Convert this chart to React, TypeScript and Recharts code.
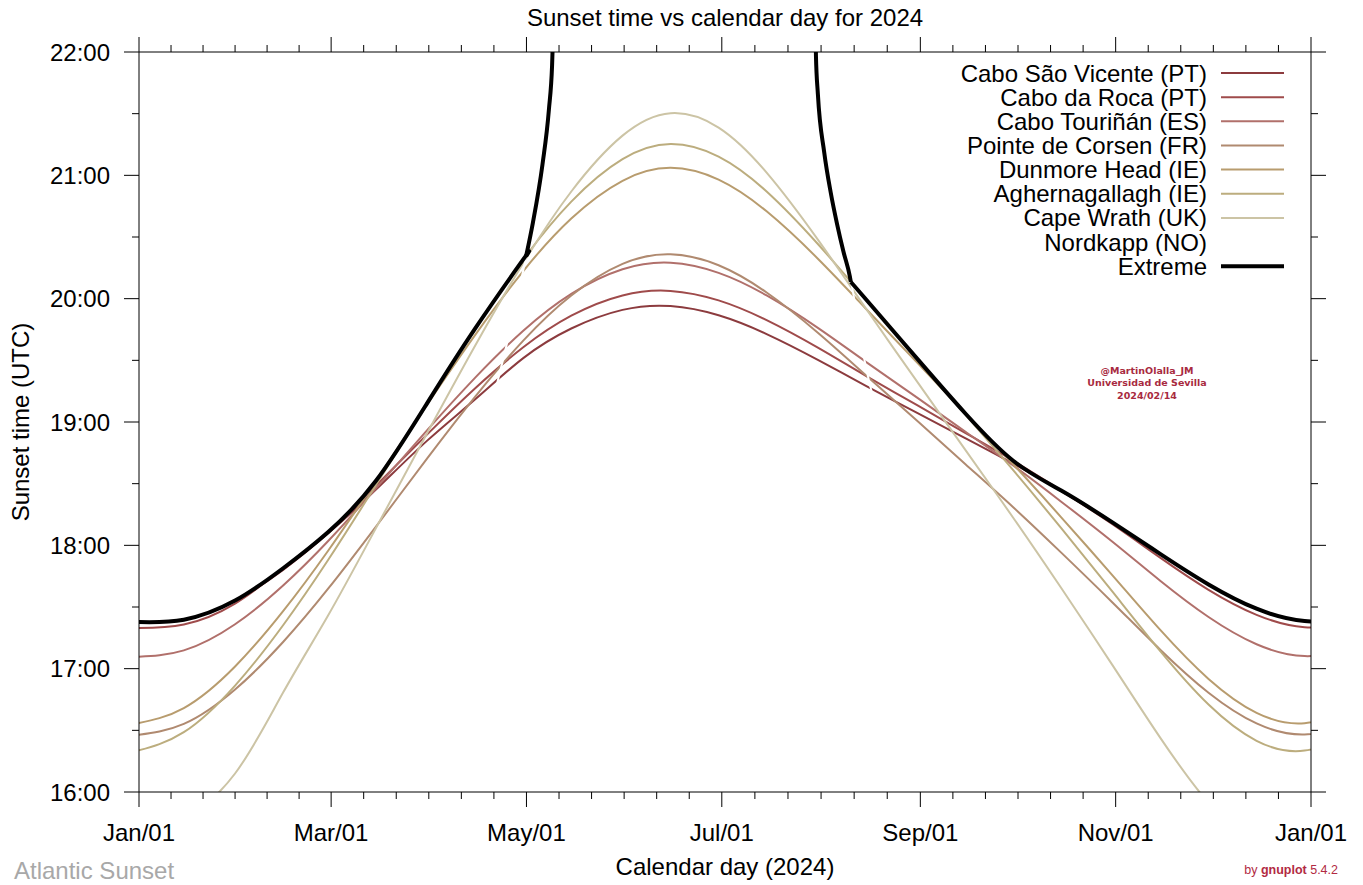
import React from 'react';
import { LineChart, Line, XAxis, YAxis } from 'recharts';

// day of year (0 = Jan 01) for the sampled sunsets; last one wraps into next January
const days = [-1, 14, 30, 45, 59, 74, 90, 105, 120, 135, 151, 166, 181, 196, 212, 227, 243, 258, 273, 288, 304, 319, 334, 349, 364, 380];

// sunset time, decimal hours UTC
const caboSaoVicente = [17.379, 17.397, 17.552, 17.801, 18.095, 18.452, 18.849, 19.184, 19.518, 19.758, 19.909, 19.94, 19.865, 19.713, 19.504, 19.293, 19.074, 18.869, 18.662, 18.44, 18.186, 17.929, 17.683, 17.486, 17.386, 17.397];
const caboDaRoca = [17.33, 17.358, 17.528, 17.814, 18.106, 18.483, 18.9, 19.274, 19.606, 19.862, 20.026, 20.063, 19.986, 19.826, 19.603, 19.374, 19.136, 18.912, 18.686, 18.444, 18.171, 17.898, 17.639, 17.436, 17.336, 17.358];
const caboTourinan = [17.096, 17.148, 17.36, 17.674, 18.033, 18.462, 18.934, 19.36, 19.74, 20.039, 20.238, 20.291, 20.209, 20.026, 19.763, 19.488, 19.198, 18.923, 18.647, 18.354, 18.029, 17.711, 17.419, 17.198, 17.102, 17.148];
const pointeDeCorsen = [16.461, 16.552, 16.831, 17.216, 17.646, 18.152, 18.705, 19.206, 19.66, 20.026, 20.282, 20.36, 20.271, 20.05, 19.724, 19.379, 19.01, 18.66, 18.309, 17.941, 17.537, 17.152, 16.805, 16.556, 16.467, 16.552];
const dunmoreHead = [16.554, 16.681, 17.018, 17.466, 17.954, 18.523, 19.143, 19.707, 20.224, 20.65, 20.956, 21.061, 20.965, 20.708, 20.324, 19.918, 19.481, 19.071, 18.657, 18.227, 17.757, 17.312, 16.917, 16.642, 16.558, 16.681];
const aghernagallagh = [16.331, 16.485, 16.863, 17.352, 17.879, 18.489, 19.153, 19.759, 20.318, 20.787, 21.131, 21.254, 21.152, 20.869, 20.443, 19.995, 19.514, 19.063, 18.609, 18.139, 17.624, 17.14, 16.709, 16.415, 16.336, 16.485];
const capeWrath = [15.492, 15.76, 16.15, 16.806, 17.429, 18.14, 18.91, 19.62, 20.289, 20.869, 21.322, 21.504, 21.387, 21.022, 20.479, 19.92, 19.327, 18.776, 18.224, 17.654, 17.029, 16.437, 15.911, 15.561, 15.495, 15.76];

// Nordkapp: no sunset during midnight sun (null)
const nordkappDays = [59, 74, 90, 97, 105, 112, 120, 123, 126, 128, 129, 129.4, 170, 211.3, 211.4, 212, 214, 216, 218, 220, 222, 227, 235, 243, 250, 258, 273];
const nordkapp = [14.789, 16.033, 17.361, 17.947, 18.681, 19.33, 20.23, 20.615, 21.088, 21.531, 21.892, 22.21, null, 22.18, 21.97, 21.66, 21.184, 20.863, 20.605, 20.38, 20.179, 19.445, 18.706, 18.092, 17.561, 16.992, 15.932];

// latest sunset of all places; kinks where Nordkapp takes over
const extremeDays = [-1, 14, 30, 45, 59, 74, 90, 105, 120, 120.9, 123, 126, 128, 129, 129.4, 170, 211.3, 211.4, 212, 214, 216, 218, 220, 222, 222.3, 227, 243, 258, 273, 288, 304, 319, 334, 349, 364, 380];
const extreme = [17.379, 17.397, 17.552, 17.814, 18.106, 18.523, 19.153, 19.759, 20.318, 20.346, 20.615, 21.088, 21.531, 21.892, 22.21, null, 22.18, 21.97, 21.66, 21.184, 20.863, 20.605, 20.38, 20.179, 20.135, 19.995, 19.514, 19.071, 18.686, 18.444, 18.186, 17.929, 17.683, 17.486, 17.386, 17.397];
const extremeKinks = [120.9, 222.3];

const monthTicks = [0, 60, 121, 182, 244, 305, 366];
const monthLabels = ['Jan/01', 'Mar/01', 'May/01', 'Jul/01', 'Sep/01', 'Nov/01', 'Jan/01'];
const hourTicks = [16, 17, 18, 19, 20, 21, 22];

const FONT = '"Liberation Sans", Arial, Helvetica, sans-serif';

const series = [
  { name: 'Cabo São Vicente (PT)', color: '#8c3b3e', values: caboSaoVicente },
  { name: 'Cabo da Roca (PT)', color: '#9f4b4b', values: caboDaRoca },
  { name: 'Cabo Touriñán (ES)', color: '#b1706b', values: caboTourinan },
  { name: 'Pointe de Corsen (FR)', color: '#b08a70', values: pointeDeCorsen },
  { name: 'Dunmore Head (IE)', color: '#b89c6e', values: dunmoreHead },
  { name: 'Aghernagallagh (IE)', color: '#bcad7e', values: aghernagallagh },
  { name: 'Cape Wrath (UK)', color: '#ccc4a5', values: capeWrath },
];

const legendItems = [
  ...series.map(s => ({ name: s.name, color: s.color, width: 2 })),
  { name: 'Nordkapp (NO)', color: '#ffffff', width: 2 },
  { name: 'Extreme', color: '#000000', width: 4 },
];

// minor ticks: 6 steps between months, half hours on y
const xTicks = [
  ...monthTicks,
  ...monthTicks.slice(0, -1).flatMap((m, i) => [1, 2, 3, 4, 5].map(k => m + ((monthTicks[i + 1] - m) * k) / 6)),
].sort((a, b) => a - b);
const yTicks = hourTicks.flatMap(h => (h < 22 ? [h, h + 0.5] : [h]));

const toData = (xs: number[], vs: (number | null)[]) => xs.map((d, i) => ({ day: d, t: vs[i] }));

// split a series at nulls and at kink days (kink point kept in both pieces)
const splitRuns = (xs: number[], vs: (number | null)[], kinks: number[]) => {
  const runs: { day: number; t: number }[][] = [];
  let cur: { day: number; t: number }[] = [];
  xs.forEach((d, i) => {
    const v = vs[i];
    if (v === null) {
      if (cur.length) runs.push(cur);
      cur = [];
      return;
    }
    cur.push({ day: d, t: v });
    if (kinks.includes(d)) {
      runs.push(cur);
      cur = [{ day: d, t: v }];
    }
  });
  if (cur.length) runs.push(cur);
  return runs.filter(r => r.length > 1);
};

const XTick = ({ x, y, payload, top }: any) => {
  const i = monthTicks.indexOf(payload.value);
  const len = i >= 0 ? 15 : 7;
  const dir = top ? -1 : 1;
  return (
    <g>
      <line x1={x} x2={x} y1={y} y2={y + dir * len} stroke="#000" strokeWidth={1} />
      {!top && i >= 0 && (
        <text x={x} y={y + 49} textAnchor="middle" fontSize={24} fontFamily={FONT} fill="#000">
          {monthLabels[i]}
        </text>
      )}
    </g>
  );
};

const YTick = ({ x, y, payload, right }: any) => {
  const major = Number.isInteger(payload.value);
  const len = major ? 15 : 7;
  const dir = right ? 1 : -1;
  return (
    <g>
      <line x1={x} x2={x + dir * len} y1={y} y2={y} stroke="#000" strokeWidth={1} />
      {!right && major && (
        <text x={x - 29} y={y + 8.5} textAnchor="end" fontSize={24} fontFamily={FONT} fill="#000">
          {`${payload.value}:00`}
        </text>
      )}
    </g>
  );
};

export default function App() {
  const extremeRuns = splitRuns(extremeDays, extreme, extremeKinks);
  const nordkappRuns = splitRuns(nordkappDays, nordkapp, []);
  // long smooth stretches get a natural spline, the steep polar ones stay monotone
  const runType = (r: { day: number }[]) => (r[r.length - 1].day - r[0].day > 30 ? 'natural' : 'monotone');

  return (
    <div style={{ position: 'absolute', left: 0, top: 0, width: 1363, height: 885, background: '#fff' }}>
      <LineChart width={1363} height={885} margin={{ top: 0, right: 0, bottom: 0, left: 0 }}>
        <XAxis
          dataKey="day"
          type="number"
          domain={[0, 366]}
          allowDataOverflow
          ticks={xTicks}
          interval={0}
          height={93}
          tickSize={0}
          tickMargin={0}
          tickLine={false}
          axisLine={{ stroke: '#000' }}
          tick={(p: any) => <XTick {...p} />}
        />
        <XAxis
          xAxisId="top"
          orientation="top"
          dataKey="day"
          type="number"
          domain={[0, 366]}
          allowDataOverflow
          ticks={xTicks}
          interval={0}
          height={52}
          tickSize={0}
          tickMargin={0}
          tickLine={false}
          axisLine={{ stroke: '#000' }}
          tick={(p: any) => <XTick {...p} top />}
        />
        <YAxis
          type="number"
          domain={[16, 22]}
          allowDataOverflow
          ticks={yTicks}
          interval={0}
          width={139}
          tickSize={0}
          tickMargin={0}
          tickLine={false}
          axisLine={{ stroke: '#000' }}
          tick={(p: any) => <YTick {...p} />}
        />
        <YAxis
          yAxisId="right"
          orientation="right"
          type="number"
          domain={[16, 22]}
          allowDataOverflow
          ticks={yTicks}
          interval={0}
          width={52}
          tickSize={0}
          tickMargin={0}
          tickLine={false}
          axisLine={{ stroke: '#000' }}
          tick={(p: any) => <YTick {...p} right />}
        />
        {series.map(s => (
          <Line
            key={s.name}
            data={toData(days, s.values)}
            dataKey="t"
            name={s.name}
            type="natural"
            stroke={s.color}
            strokeWidth={2}
            dot={false}
            activeDot={false}
            isAnimationActive={false}
          />
        ))}
        {nordkappRuns.map((r, i) => (
          <Line
            key={`nk${i}`}
            data={r}
            dataKey="t"
            name="Nordkapp (NO)"
            type="monotone"
            stroke="#ffffff"
            strokeWidth={2}
            dot={false}
            activeDot={false}
            isAnimationActive={false}
          />
        ))}
        {extremeRuns.map((r, i) => (
          <Line
            key={`ex${i}`}
            data={r}
            dataKey="t"
            name="Extreme"
            type={runType(r)}
            stroke="#000000"
            strokeWidth={4}
            dot={false}
            activeDot={false}
            isAnimationActive={false}
          />
        ))}
      </LineChart>

      <svg width={1363} height={885} style={{ position: 'absolute', left: 0, top: 0, pointerEvents: 'none' }}>
        <text x={725} y={26} textAnchor="middle" fontSize={24} fontFamily={FONT} fill="#000">
          Sunset time vs calendar day for 2024
        </text>
        <text x={725} y={875} textAnchor="middle" fontSize={24} fontFamily={FONT} fill="#000">
          Calendar day (2024)
        </text>
        <text x={29} y={422} textAnchor="middle" fontSize={24} fontFamily={FONT} fill="#000" transform="rotate(-90 29 422)">
          Sunset time (UTC)
        </text>
        <text x={14} y={879} fontSize={24} fontFamily={FONT} fill="#a8a8a8">
          Atlantic Sunset
        </text>
        <text x={1338} y={874} textAnchor="end" fontSize={12.5} fontFamily={FONT} fill="#b22a43">
          by <tspan fontWeight="bold">gnuplot</tspan> 5.4.2
        </text>
        <g fontFamily='"DejaVu Sans", sans-serif' fontWeight="bold" fontSize={9.5} fill="#a82a40" textAnchor="middle">
          <text x={1147} y={373.5}>@MartinOlalla_JM</text>
          <text x={1147} y={385.5}>Universidad de Sevilla</text>
          <text x={1147} y={398.5}>2024/02/14</text>
        </g>
        {legendItems.map((item, i) => {
          const ry = 73 + i * 24.15;
          return (
            <g key={item.name}>
              <text x={1207} y={ry + 8.5} textAnchor="end" fontSize={24} fontFamily={FONT} fill="#000">
                {item.name}
              </text>
              <line x1={1221} x2={1284} y1={ry} y2={ry} stroke={item.color} strokeWidth={item.width} />
            </g>
          );
        })}
      </svg>
    </div>
  );
}
